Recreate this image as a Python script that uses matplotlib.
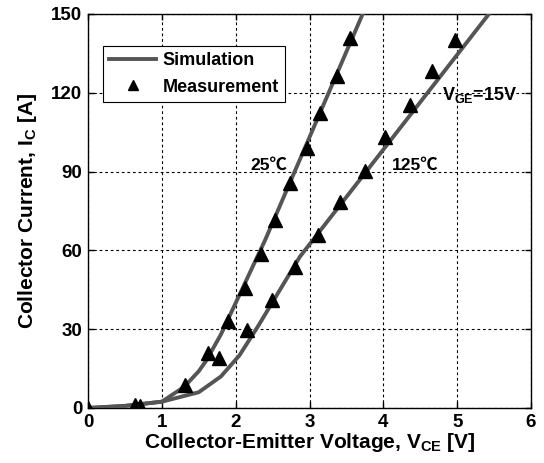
import matplotlib
matplotlib.use("Agg")
import matplotlib.pyplot as plt
import numpy as np

plt.rcParams['font.family'] = ['Liberation Sans', 'DejaVu Sans']
plt.rcParams['font.weight'] = 'bold'
plt.rcParams['mathtext.fontset'] = 'custom'
plt.rcParams['mathtext.rm'] = 'Liberation Sans:bold'
plt.rcParams['mathtext.bf'] = 'Liberation Sans:bold'
plt.rcParams['mathtext.it'] = 'Liberation Sans:bold'

# Simulation curves
sim25_v = [0, 0.5, 1.0, 1.3, 1.5, 1.6, 1.8, 2.0, 2.4, 3.72]
sim25_i = [0, 0.8, 2.4, 8, 14, 18, 28, 40, 64, 150]
sim125_v = [0, 0.5, 1.0, 1.5, 1.8, 2.05, 2.3, 2.87, 5.43]
sim125_i = [0, 0.8, 2.4, 6, 12, 20, 31, 57.6, 150]

# Measurements
meas25_v = [0, 0.64, 0.70, 1.31, 1.62, 1.89, 2.13, 2.34, 2.53, 2.74, 2.97, 3.14, 3.37, 3.55]
meas25_i = [0, 1.1, 0.9, 8.8, 20.8, 33.1, 45.6, 58.6, 71.6, 85.5, 98.8, 112.2, 126.2, 140.7]
meas125_v = [1.77, 2.15, 2.49, 2.81, 3.12, 3.41, 3.75, 4.02, 4.36, 4.66, 4.97]
meas125_i = [18.9, 29.7, 41.1, 53.5, 66.0, 78.5, 90.1, 103.3, 115.3, 128.3, 140.1]

xticks = [0, 1, 2, 3, 4, 5, 6]
yticks = [0, 30, 60, 90, 120, 150]

fig = plt.figure(figsize=(5.44, 4.63), dpi=100)
ax = fig.add_axes([0.1618, 0.1188, 0.8143, 0.851])

line_c = '#555555'
ax.plot(sim25_v, sim25_i, color=line_c, lw=2.8, label='Simulation', zorder=3)
ax.plot(sim125_v, sim125_i, color=line_c, lw=2.8, zorder=3)
ax.plot(meas25_v, meas25_i, '^', color='black', ms=10, ls='none', label='Measurement', zorder=4)
ax.plot(meas125_v, meas125_i, '^', color='black', ms=10, ls='none', zorder=4)

ax.set_xlim(0, 6)
ax.set_ylim(0, 150)
ax.set_xticks(xticks)
ax.set_yticks(yticks)
ax.tick_params(direction='in', length=4, width=1, labelsize=13.5, pad=4,
               top=True, right=True)
for lab in ax.get_xticklabels() + ax.get_yticklabels():
    lab.set_fontweight('bold')
ax.grid(True, color='black', ls=(0, (2.5, 2.5)), lw=0.8)
for s in ax.spines.values():
    s.set_linewidth(1.0)
    s.set_color('black')

ax.set_xlabel('Collector-Emitter Voltage, V$_{\\mathrm{CE}}$ [V]', fontsize=15, fontweight='bold', labelpad=0)
ax.set_ylabel('Collector Current, I$_{\\mathrm{C}}$ [A]', fontsize=15, fontweight='bold', labelpad=9)

ax.text(2.2, 92.5, '25℃', fontsize=12.5, fontweight='bold', va='center', ha='left',
        family=['Liberation Sans', 'Noto Sans CJK SC', 'DejaVu Sans'])
ax.text(4.12, 92.5, '125℃', fontsize=12.5, fontweight='bold', va='center', ha='left',
        family=['Liberation Sans', 'Noto Sans CJK SC', 'DejaVu Sans'])
ax.text(4.8, 119, 'V$_{\\mathrm{GE}}$=15V', fontsize=13, fontweight='bold', va='center', ha='left')

leg = ax.legend(loc='upper left', bbox_to_anchor=(0.034, 0.92), fontsize=13, frameon=True,
                fancybox=False, edgecolor='black', framealpha=1, handlelength=2.6,
                borderpad=0.35, labelspacing=0.55, handletextpad=0.35, borderaxespad=0,
                markerscale=0.75)
leg.get_frame().set_linewidth(0.8)
for t in leg.get_texts():
    t.set_fontweight('bold')

fig.savefig('out.png', dpi=100)
